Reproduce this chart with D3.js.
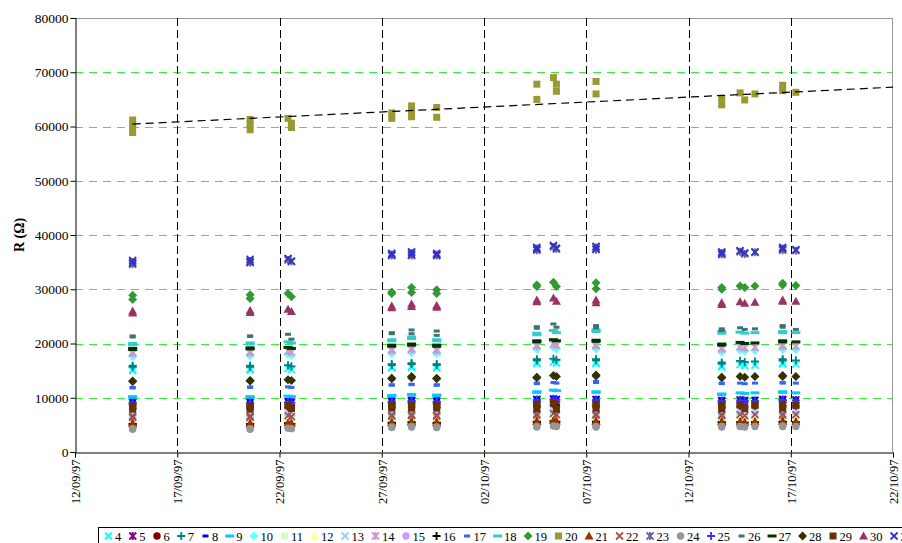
<!DOCTYPE html>
<html><head><meta charset="utf-8">
<script src="https://cdn.jsdelivr.net/npm/d3@7"></script>
<style>
body{margin:0;background:#fff}
svg{display:block}
text{font-family:"Liberation Serif","Times New Roman",serif}
</style>
</head><body>
<svg id="chart" width="902" height="543"></svg>
<script>
const _ = null;
// Measurement rows (date/time of each reading)
const rowDates = [
 "1997-09-14T19:40","1997-09-14T19:40","1997-09-14T19:40",
 "1997-09-20T13:30","1997-09-20T13:30","1997-09-20T13:30",
 "1997-09-22T10:00","1997-09-22T14:00","1997-09-22T14:00",
 "1997-09-27T11:45","1997-09-27T11:45",
 "1997-09-28T11:00","1997-09-28T11:00","1997-09-28T11:00",
 "1997-09-29T16:30","1997-09-29T16:30",
 "1997-10-04T14:00","1997-10-04T14:00",
 "1997-10-05T09:30","1997-10-05T13:00","1997-10-05T13:00",
 "1997-10-07T11:30","1997-10-07T11:30",
 "1997-10-13T15:00","1997-10-13T15:00",
 "1997-10-14T12:30","1997-10-14T18:00",
 "1997-10-15T06:00",
 "1997-10-16T14:30","1997-10-16T14:30",
 "1997-10-17T06:00"
];
const seriesNames = ["4","5","6","7","8","9","10","11","12","13","14","15","16","17","18","19","20","21","22","23","24","25","26","27","28","29","30","31"];

const s4  = [15200,15000,_, 15300,15100,_, 15400,15200,_, 15700,15500, 15800,15600,_, 15700,15500, 16500,16300, 16600,16400,_, 16500,16300, 15900,15700, 16100,15900, 16000, 16400,16200, 16200];
const s5  = [9200,9100,_, 9200,9100,_, 9300,9200,_, 9400,9300, 9500,9400,_, 9400,9300, 9700,9600, 9800,9700,_, 9700,9600, 9500,9400, 9600,9500, 9500, 9700,9600, 9600];
const s6  = [8100,8000,_, 8100,8000,_, 8200,8100,_, 8300,8200, 8400,8300,_, 8300,8200, 8500,8400, 8600,8500,_, 8500,8400, 8300,8200, 8400,8300, 8400, 8500,8400, 8400];
const s7  = [15900,15700,_, 15900,15700,_, 16000,15800,_, 16200,16000, 16400,16200,_, 16200,16000, 17100,16900, 17200,17000,_, 17100,16900, 16500,16300, 16800,16600, 16700, 17100,16900, 16900];
const s8  = [9600,9500,_, 9600,9500,_, 9700,9600,_, 9800,9700, 9900,9800,_, 9800,9700, 10000,9900, 10100,10000,_, 10000,9900, 9800,9700, 9900,9800, 9900, 10000,9900, 9900];
const s9  = [10200,10100,_, 10200,10100,_, 10300,10200,_, 10400,10300, 10600,10500,_, 10500,10400, 11100,11000, 11400,11300,_, 11100,11000, 10700,10600, 10900,10800, 10900, 11100,11000, 10900];
const s10 = [17800,17600,_, 17900,17700,_, 18000,17800,_, 18300,18100, 18500,18300,_, 18300,18100, 19100,18900, 19300,19100,_, 19200,19000, 18600,18400, 18800,18600, 18700, 19100,18900, 18900];
const s11 = [5900,5800,_, 5900,5800,_, 6000,5900,_, 6100,6000, 6200,6100,_, 6100,6000, 6300,6200, 6400,6300,_, 6300,6200, 6200,6100, 6200,6100, 6200, 6300,6200, 6200];
const s12 = [5600,5500,_, 5600,5500,_, 5700,5600,_, 5800,5700, 5900,5800,_, 5800,5700, 6000,5900, 6100,6000,_, 6000,5900, 5900,5800, 5900,5800, 5900, 6000,5900, 5900];
const s13 = [7200,7100,_, 7200,7100,_, 7300,7200,_, 7400,7300, 7500,7400,_, 7400,7300, 7600,7500, 7700,7600,_, 7600,7500, 7500,7400, 7500,7400, 7500, 7600,7500, 7500];
const s14 = [18400,18200,_, 18500,18300,_, 18600,18400,_, 18900,18700, 19100,18900,_, 18900,18700, 19700,19500, 19900,19700,_, 19800,19600, 19200,19000, 19400,19200, 19300, 19700,19500, 19500];
const s15 = [4800,4700,_, 4800,4700,_, 4900,4800,_, 5000,4900, 5100,5000,_, 5000,4900, 5200,5100, 5300,5200,_, 5200,5100, 5100,5000, 5100,5000, 5100, 5200,5100, 5100];
const s16 = [5200,5100,_, 5200,5100,_, 5300,5200,_, 5400,5300, 5500,5400,_, 5400,5300, 5600,5500, 5700,5600,_, 5600,5500, 5500,5400, 5500,5400, 5500, 5600,5500, 5500];
const s17 = [11900,11800,_, 12000,11900,_, 12000,11900,_, 12400,12300, 12500,12400,_, 12400,12300, 12700,12600, 12800,12700,_, 13000,12800, 12700,12600, 12700,12600, 12700, 12800,12700, 12700];
const s18 = [20000,19800,_, 20100,19900,_, 20300,20100,_, 20700,20500, 21200,20900,_, 20700,20500, 21900,21600, 22400,22000,_, 22500,22200, 22200,21900, 22100,21900, 22000, 22200,22000, 22000];
const s19 = [28900,28100,_, 29000,28300,_, 29200,28600,_, 29500,29200, 30300,29400,_, 29900,29200, 30800,30500, 31300,30500,_, 31200,30100, 30300,30000, 30600,30300, 30600, 31100,30800, 30700];
const s20 = [61200,60000,58900, 61300,60300,59400, 61500,60600,59800, 62500,61500, 63800,62800,61800, 63500,61700, 67800,65000, 69000,67800,66500, 68300,66000, 65200,64000, 66200,64900, 66000, 67600,66600, 66300];
const s21 = [5300,5200,_, 5300,5200,_, 5400,5300,_, 5500,5400, 5600,5500,_, 5500,5400, 5700,5600, 5800,5700,_, 5700,5600, 5600,5500, 5600,5500, 5600, 5700,5600, 5600];
const s22 = [6600,6400,_, 6600,6400,_, 6700,6500,_, 6800,6600, 6900,6700,_, 6800,6600, 7000,6800, 7100,6900,_, 7000,6800, 6900,6700, 6900,6700, 6900, 7000,6800, 6900];
const s23 = [35000,34600,_, 35200,34900,_, 35400,35100,_, 36400,36200, 36700,36200,_, 36400,36200, 37500,37200, 37800,37400,_, 37700,37300, 36700,36400, 36900,36500, 36800, 37500,37200, 37100];
const s24 = [4300,4200,_, 4300,4200,_, 4400,4300,_, 4600,4500, 4700,4600,_, 4600,4500, 4700,4600, 4800,4700,_, 4700,4600, 4700,4600, 4700,4600, 4700, 4800,4700, 4700];
const s25 = [9100,9000,_, 9100,9000,_, 9200,9100,_, 9300,9200, 9400,9300,_, 9300,9200, 9600,9500, 9700,9600,_, 9600,9500, 9400,9300, 9500,9400, 9400, 9600,9500, 9500];
const s26 = [21400,21200,_, 21400,21300,_, 21700,20800,_, 22000,21800, 22500,21800,_, 22300,21500, 23100,22800, 23600,23000,_, 23300,22900, 22700,22400, 22900,22600, 22700, 23300,23000, 22600];
const s27 = [19100,18900,_, 19200,19000,_, 19300,19100,_, 19700,19500, 19900,19700,_, 19700,19500, 20500,20300, 20700,20500,_, 20600,20400, 19900,19700, 20200,20000, 20100, 20500,20300, 20300];
const s28 = [13100,13000,_, 13200,13100,_, 13300,13200,_, 13600,13500, 13900,13700,_, 13600,13500, 13800,13700, 14100,13900,_, 14200,14000, 13800,13700, 13900,13800, 13900, 14100,13900, 13900];
const s29 = [8500,7900,_, 8500,7900,_, 8600,8000,_, 8600,8100, 8700,8100,_, 8600,8100, 8800,8000, 9000,7900,_, 8800,8100, 8600,8000, 8700,8000, 8600, 8800,8100, 8600];
const s30 = [26000,25600,_, 26100,25700,_, 26300,25900,_, 26900,26600, 27300,26800,_, 27000,26700, 28000,27700, 28400,27800,_, 28000,27500, 27500,27200, 27700,27400, 27600, 28000,27800, 27800];
const s31 = [35300,34800,_, 35500,35000,_, 35700,35200,_, 36600,36300, 36900,36400,_, 36600,36300, 37700,37300, 38100,37600,_, 37900,37400, 36900,36500, 37100,36700, 36900, 37700,37400, 37300];

// linear trendline of series 20
const trendDates  = ["1997-09-14T19:40","1997-10-22T00:00"];
const trendValues = [60450, 67250];

const xTickLabels = ["12/09/97","17/09/97","22/09/97","27/09/97","02/10/97","07/10/97","12/10/97","17/10/97","22/10/97"];
const yTicks = [0,10000,20000,30000,40000,50000,60000,70000,80000];

// ---- styles ----
const seriesValues = [s4,s5,s6,s7,s8,s9,s10,s11,s12,s13,s14,s15,s16,s17,s18,s19,s20,s21,s22,s23,s24,s25,s26,s27,s28,s29,s30,s31];
const colors = ["#00FFFF","#800080","#800000","#008080","#0000FF","#00CCFF","#66FFFF","#CCFFCC","#FFFF99","#99CCFF","#CC99CC","#CC99FF","#000000","#3366FF","#33CCCC","#339933","#999933","#993300","#A05050","#666699","#969696","#3333FF","#3D7373","#003300","#333300","#663300","#993366","#3333CC"];
const markerCycle = ["x","star","circle","plus","dashS","dashL","diamond","square","triangle"];
const FONT = '"Liberation Serif","Times New Roman",serif';

const W = 902, H = 543;
const pL = 75, pR = 893, pT = 18, pB = 452;
const parseRow = d3.utcParse("%Y-%m-%dT%H:%M");
const parseTick = d3.utcParse("%d/%m/%y");
const tickDates = xTickLabels.map(parseTick);

const x = d3.scaleUtc().domain([tickDates[0], tickDates[tickDates.length-1]]).range([pL, pR]);
const y = d3.scaleLinear().domain([0, 80000]).range([pB, pT]);

const svg = d3.select("#chart");
svg.append("rect").attr("width", W).attr("height", H).attr("fill", "#fff");

// horizontal green gridlines
svg.append("g").selectAll("line").data(yTicks.slice(1)).join("line")
  .attr("x1", pL).attr("x2", pR)
  .attr("y1", d => Math.round(y(d)) + 0.5).attr("y2", d => Math.round(y(d)) + 0.5)
  .attr("stroke", "#33EE33").attr("stroke-width", 1).attr("stroke-dasharray", "8,6");

// plot-area border (top/right)
svg.append("path")
  .attr("d", `M${pL},${pT+0.5}H${pR-0.5}V${pB}`)
  .attr("fill", "none").attr("stroke", "#999").attr("stroke-width", 1);

// vertical black dashed gridlines
svg.append("g").selectAll("line").data(tickDates.slice(1, -1)).join("line")
  .attr("x1", d => Math.round(x(d)) + 0.5).attr("x2", d => Math.round(x(d)) + 0.5)
  .attr("y1", pT).attr("y2", pB)
  .attr("stroke", "#000").attr("stroke-width", 1).attr("stroke-dasharray", "8,4");

// axes
const yAxis = d3.axisLeft(y).tickValues(yTicks).tickFormat(d3.format("d")).tickSize(5).tickPadding(2);
const gy = svg.append("g").attr("transform", `translate(${pL + 0.5},0)`).call(yAxis)
  .attr("font-family", FONT).attr("font-size", 13);
gy.selectAll("text").attr("fill", "#000").style("font-family", FONT).style("font-size", "13.5px");
gy.select(".domain").attr("stroke", "#000");

const xAxis = d3.axisBottom(x).tickValues(tickDates).tickFormat((d, i) => xTickLabels[i]).tickSize(5).tickPadding(4);
const gx = svg.append("g").attr("transform", `translate(0,${pB + 0.5})`).call(xAxis)
  .attr("font-family", FONT).attr("font-size", 12);
gx.selectAll("text").attr("fill", "#000").style("font-family", FONT).style("font-size", "12.5px")
  .attr("transform", "rotate(-90)").attr("text-anchor", "end")
  .attr("x", -7).attr("y", 0).attr("dy", "0.35em");
gx.select(".domain").attr("stroke", "#000");

// y title
svg.append("text").attr("transform", `translate(24,${(pT + pB) / 2}) rotate(-90)`)
  .attr("text-anchor", "middle").style("font-family", FONT).style("font-size", "14px").attr("font-weight", "bold")
  .text("R (Ω)");

// marker drawing
function drawMarker(g, type, color) {
  const sw = 1.8;
  switch (type) {
    case "x":
      g.append("path").attr("d", "M-3.5,-3.5L3.5,3.5M-3.5,3.5L3.5,-3.5").attr("stroke", color).attr("stroke-width", sw).attr("fill", "none"); break;
    case "star":
      g.append("path").attr("d", "M-3.5,-3.5L3.5,3.5M-3.5,3.5L3.5,-3.5M0,-4L0,4").attr("stroke", color).attr("stroke-width", sw).attr("fill", "none"); break;
    case "circle":
      g.append("circle").attr("r", 3.7).attr("fill", color); break;
    case "plus":
      g.append("path").attr("d", "M-4,0L4,0M0,-4L0,4").attr("stroke", color).attr("stroke-width", sw).attr("fill", "none"); break;
    case "dashS":
      g.append("rect").attr("x", -3).attr("y", -1.5).attr("width", 6).attr("height", 3).attr("fill", color); break;
    case "dashL":
      g.append("rect").attr("x", -4.5).attr("y", -1.5).attr("width", 9).attr("height", 3).attr("fill", color); break;
    case "diamond":
      g.append("path").attr("d", "M0,-4.5L4.5,0L0,4.5L-4.5,0Z").attr("fill", color); break;
    case "square":
      g.append("rect").attr("x", -3.5).attr("y", -3.5).attr("width", 7).attr("height", 7).attr("fill", color); break;
    case "triangle":
      g.append("path").attr("d", "M0,-4.5L4.5,3.5L-4.5,3.5Z").attr("fill", color); break;
  }
}

const rowTimes = rowDates.map(parseRow);
const marks = svg.append("g");
seriesValues.forEach((vals, si) => {
  const type = markerCycle[si % markerCycle.length];
  const pts = vals.map((v, i) => ({ t: rowTimes[i], v })).filter(d => d.v !== null);
  const gs = marks.append("g");
  pts.forEach(p => {
    const g = gs.append("g").attr("transform", `translate(${x(p.t)},${y(p.v)})`);
    drawMarker(g, type, colors[si]);
  });
});

// trendline
const trendPts = trendDates.map((d, i) => [x(parseRow(d)), y(trendValues[i])]);
svg.append("path").attr("d", d3.line()(trendPts))
  .attr("fill", "none").attr("stroke", "#000").attr("stroke-width", 1.2).attr("stroke-dasharray", "8,5");

// legend (runs past the right edge, as in the original)
const lg = svg.append("g");
lg.append("rect").attr("x", 98.5).attr("y", 527.5).attr("width", 830).attr("height", 24)
  .attr("fill", "#fff").attr("stroke", "#000").attr("stroke-width", 1);
let cx = 108.5;
seriesNames.forEach((name, si) => {
  const type = markerCycle[si % markerCycle.length];
  const g = lg.append("g").attr("transform", `translate(${cx},536)`);
  drawMarker(g, type, colors[si]);
  const t = lg.append("text").attr("x", cx + 6.5).attr("y", 540.5).style("font-family", FONT).style("font-size", "12.5px").text(name);
  cx += 6.5 + t.node().getComputedTextLength() + 11.5;
});
</script>
</body></html>
